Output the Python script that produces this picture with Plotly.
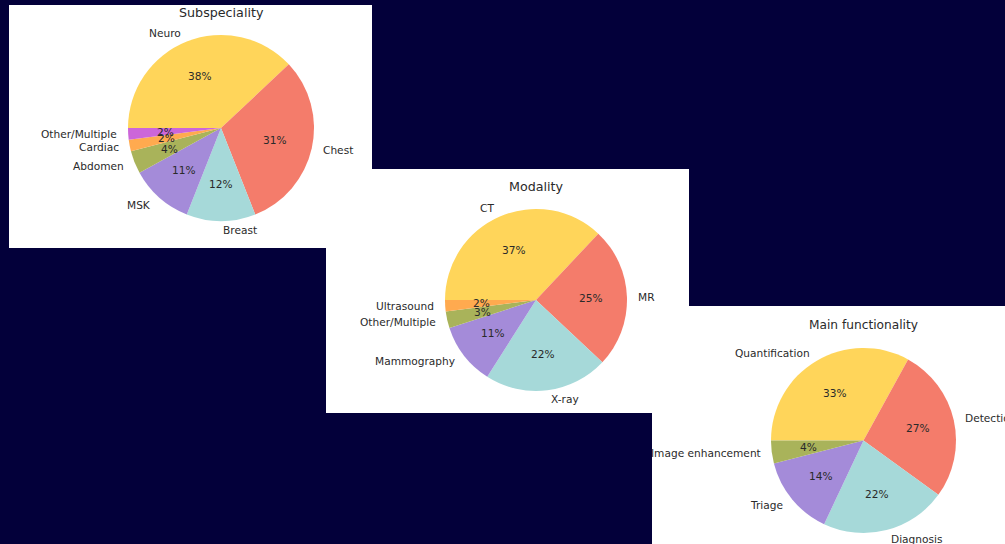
import math
import plotly.graph_objects as go

W, H = 1005, 544
NAVY = "#03003A"
TXT = "#2a2a2a"
FONT = "DejaVu Sans"

# ---- data ----
sub_labels = ["Neuro", "Chest", "Breast", "MSK", "Abdomen", "Cardiac", "Other/Multiple"]
sub_values = [38, 31, 12, 11, 4, 2, 2]
sub_colors = ["#FFD55A", "#F47C6B", "#A6D9D9", "#A48BD9", "#A9B35A", "#FFAA4F", "#CC66D9"]

mod_labels = ["CT", "MR", "X-ray", "Mammography", "Other/Multiple", "Ultrasound"]
mod_values = [37, 25, 22, 11, 3, 2]
mod_colors = ["#FFD55A", "#F47C6B", "#A6D9D9", "#A48BD9", "#A9B35A", "#FFAA4F"]

fun_labels = ["Quantification", "Detection", "Diagnosis", "Triage", "Image enhancement"]
fun_values = [33, 27, 22, 14, 4]
fun_colors = ["#FFD55A", "#F47C6B", "#A6D9D9", "#A48BD9", "#A9B35A"]

titles = ["Subspeciality", "Modality", "Main functionality"]

# ---- layout geometry (pixels) ----
panels = [(9, 5, 372, 248), (326, 169, 689, 413), (652, 306, 1005, 544)]
pies = [(221, 128, 93), (536, 300, 91), (863.5, 440.5, 92.5)]
title_sizes = [12.7, 12.7, 12.2]
LABEL_SIZE = 10.6

fig = go.Figure()
shapes = []
annotations = []

for (x0, y0, x1, y1) in panels:
    shapes.append(dict(type="rect", xref="paper", yref="paper",
                       x0=x0 / W, x1=x1 / W, y0=1 - y1 / H, y1=1 - y0 / H,
                       fillcolor="white", line=dict(width=0), layer="below"))

datasets = [(sub_labels, sub_values, sub_colors),
            (mod_labels, mod_values, mod_colors),
            (fun_labels, fun_values, fun_colors)]

for i, ((labels, values, colors), (cx, cy, R)) in enumerate(zip(datasets, pies)):
    fig.add_trace(go.Pie(
        labels=labels, values=values, sort=False, direction="clockwise",
        rotation=-90, textinfo="none", hoverinfo="label+percent",
        marker=dict(colors=colors, line=dict(width=0)),
        domain=dict(x=[(cx - R) / W, (cx + R) / W], y=[1 - (cy + R) / H, 1 - (cy - R) / H]),
        showlegend=False,
    ))
    total = float(sum(values))
    start = 180.0
    for lab, v in zip(labels, values):
        frac = v / total
        mid = start - frac * 180.0
        start -= frac * 360.0
        c, s = math.cos(math.radians(mid)), math.sin(math.radians(mid))
        lx, ly = cx + 1.1 * R * c, cy - 1.1 * R * s
        annotations.append(dict(
            x=lx / W, y=1 - ly / H, xref="paper", yref="paper", text=lab, showarrow=False,
            xanchor="left" if c > 0 else "right", yanchor="middle",
            font=dict(family=FONT, size=LABEL_SIZE, color=TXT)))
        px, py = cx + 0.6 * R * c, cy - 0.6 * R * s
        annotations.append(dict(
            x=px / W, y=1 - py / H, xref="paper", yref="paper",
            text=f"{round(frac * 100):.0f}%", showarrow=False,
            xanchor="center", yanchor="middle",
            font=dict(family=FONT, size=LABEL_SIZE, color=TXT)))
    annotations.append(dict(
        x=cx / W, y=1 - (cy - R - 23) / H, xref="paper", yref="paper", text=titles[i],
        showarrow=False, xanchor="center", yanchor="middle",
        font=dict(family=FONT, size=title_sizes[i], color=TXT)))

fig.update_layout(
    width=W, height=H, autosize=False,
    margin=dict(l=0, r=0, t=0, b=0),
    paper_bgcolor=NAVY, plot_bgcolor=NAVY,
    shapes=shapes, annotations=annotations,
)

fig.write_html(
    "out.html",
    config={"displayModeBar": False},
    post_script="document.body.style.margin='0';document.body.style.padding='0';"
                "document.body.style.overflow='hidden';document.body.style.background='" + NAVY + "';",
)
